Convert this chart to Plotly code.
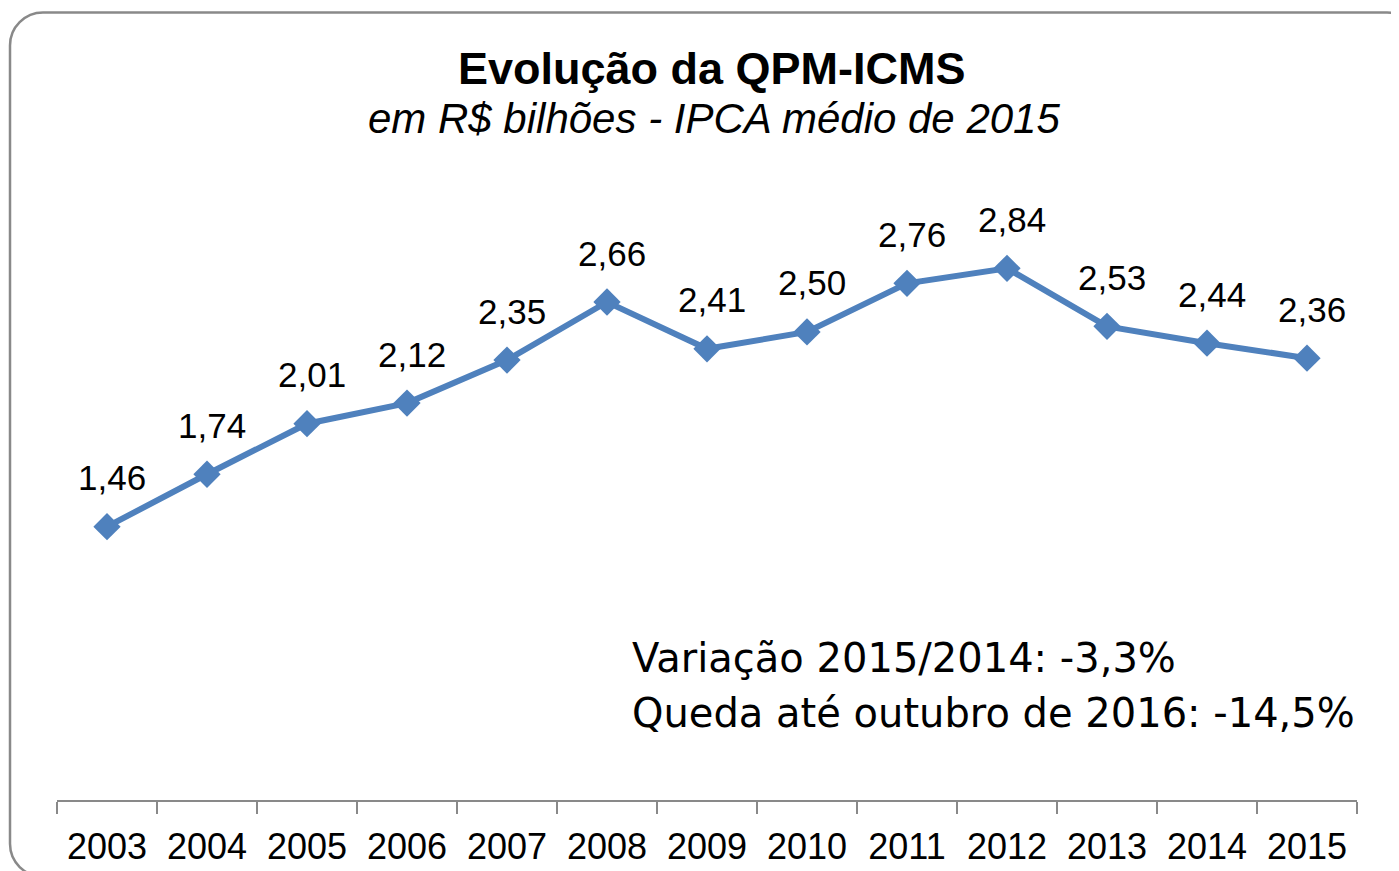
import plotly.graph_objects as go

years = ["2003", "2004", "2005", "2006", "2007", "2008", "2009",
         "2010", "2011", "2012", "2013", "2014", "2015"]
values = [1.46, 1.74, 2.01, 2.12, 2.35, 2.66, 2.41, 2.50, 2.76, 2.84, 2.53, 2.44, 2.36]
labels = ["1,46", "1,74", "2,01", "2,12", "2,35", "2,66", "2,41",
          "2,50", "2,76", "2,84", "2,53", "2,44", "2,36"]

title_text = "<b>Evolução da QPM-ICMS</b>"
subtitle_text = "<i>em R$ bilhões - IPCA médio de 2015</i>"
note_lines = ["Variação 2015/2014: -3,3%", "Queda até outubro de 2016: -14,5%"]

W, H = 1399, 871
OFF = 8  # page body margin of the html page
PL, PR, PT, PB = 57, 1357, 141, 803  # plot area in screen pixels


def px(x):
    return (x - PL) / (PR - PL)


def py(y):
    return (PB - y) / (PB - PT)


BLUE = "#4F81BD"
GRAY = "#898989"
SANS = "Liberation Sans, Arial"

fig = go.Figure()
fig.add_trace(go.Scatter(
    x=years, y=values, mode="lines+markers",
    line=dict(color=BLUE, width=6),
    marker=dict(symbol="diamond", size=21, color=BLUE),
    hoverinfo="skip", showlegend=False,
))

annotations = []
for i, (v, lab) in enumerate(zip(values, labels)):
    annotations.append(dict(
        x=i, y=v, xref="x", yref="y", text=lab, showarrow=False,
        xshift=5, yshift=49, xanchor="center", yanchor="middle",
        font=dict(family=SANS, size=35, color="black"),
    ))

annotations.append(dict(
    x=px(712), y=py(68), xref="paper", yref="paper", text=title_text,
    showarrow=False, xanchor="center", yanchor="middle",
    font=dict(family=SANS, size=45, color="black"),
))
annotations.append(dict(
    x=px(714), y=py(118), xref="paper", yref="paper", text=subtitle_text,
    showarrow=False, xanchor="center", yanchor="middle",
    font=dict(family=SANS, size=42, color="black"),
))
for i, line in enumerate(note_lines):
    annotations.append(dict(
        x=px(630), y=py(660 + 56 * i), xref="paper", yref="paper", text=line,
        showarrow=False, xanchor="left", yanchor="middle",
        font=dict(family="DejaVu Sans", size=40, color="black"),
    ))

# rounded border (partly outside the visible window, as in the reference)
L, T, R, B, r = 10, 12, 1420, 880, 33
k = 0.5523 * r
pts = [
    ("M", [(L + r, T)]),
    ("L", [(R - r, T)]),
    ("C", [(R - r + k, T), (R, T + r - k), (R, T + r)]),
    ("L", [(R, B - r)]),
    ("C", [(R, B - r + k), (R - r + k, B), (R - r, B)]),
    ("L", [(L + r, B)]),
    ("C", [(L + r - k, B), (L, B - r + k), (L, B - r)]),
    ("L", [(L, T + r)]),
    ("C", [(L, T + r - k), (L + r - k, T), (L + r, T)]),
]
path = ""
for cmd, ps in pts:
    path += cmd + " " + " ".join(f"{px(a):.5f},{py(b):.5f}" for a, b in ps) + " "
path += "Z"

fig.update_layout(
    width=W, height=H,
    margin=dict(l=PL - OFF, r=W - (PR - OFF), t=PT - OFF, b=H - (PB - OFF), pad=0),
    paper_bgcolor="white", plot_bgcolor="white",
    annotations=annotations,
    shapes=[dict(type="path", path=path, xref="paper", yref="paper",
                 line=dict(color=GRAY, width=2.5), fillcolor="rgba(0,0,0,0)",
                 layer="below")],
    xaxis=dict(
        type="category", range=[-0.5, 12.5], tickson="boundaries",
        ticks="outside", ticklen=12, tickwidth=2, tickcolor=GRAY,
        showline=True, linecolor=GRAY, linewidth=2,
        showgrid=False, zeroline=False, ticklabelstandoff=14,
        tickfont=dict(family=SANS, size=36, color="black"),
    ),
    yaxis=dict(range=[0, 3.52], visible=False, showgrid=False, zeroline=False),
)

fig.write_html("out.html")
